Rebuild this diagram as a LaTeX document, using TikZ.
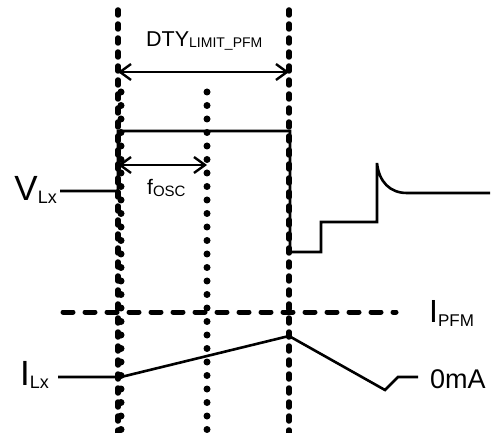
\documentclass[tikz,border=0pt]{standalone}
\usepackage{fontspec}
\setmainfont{Liberation Sans}
\usetikzlibrary{arrows.meta}
\begin{document}
\begin{tikzpicture}[x=1pt, y=-1pt,
    wave/.style={line width=2.6pt, line join=miter},
    vdash/.style={line width=5.5pt, line cap=round, dash pattern=on 5pt off 9pt},
    vdot/.style={line width=7pt, line cap=round, dash pattern=on 0pt off 13.5pt},
    hdash/.style={line width=5pt, line cap=round, dash pattern=on 10pt off 12pt},
    dimarr/.style={{Straight Barb[length=11pt,width=16pt]}-{Straight Barb[length=11pt,width=16pt]}, line width=2.4pt},
    lbl/.style={inner sep=0pt}]
  \useasboundingbox (0,0) rectangle (496,433);
  % time markers
  \coordinate (tOnTop) at (118,10);   \coordinate (tOnBot) at (118,433);
  \coordinate (tOffTop) at (289,10);  \coordinate (tOffBot) at (289,433);
  \coordinate (oscATop) at (121,92);  \coordinate (oscABot) at (121,433);
  \coordinate (oscBTop) at (207,92);  \coordinate (oscBBot) at (207,433);
  \draw[vdash] (tOnTop) -- (tOnBot);
  \draw[vdash] (tOffTop) -- (tOffBot);
  \draw[vdot] (oscATop) -- (oscABot);
  \draw[vdot] (oscBTop) -- (oscBBot);
  % PFM current threshold
  \coordinate (pfmL) at (63,312); \coordinate (pfmR) at (396,312);
  \draw[hdash] (pfmL) -- (pfmR);
  % dimensions
  \coordinate (dtyL) at (118,72); \coordinate (dtyR) at (289,72);
  \coordinate (oscL) at (118,165); \coordinate (oscR) at (207,165);
  \draw[dimarr] (dtyL) -- (dtyR);
  \draw[dimarr] (oscL) -- (oscR);
  % labels
  \node[lbl, anchor=base west] (dty) at (146,47)
    {\fontsize{21.5}{21.5}\selectfont DTY\raisebox{-1pt}{\fontsize{14}{14}\selectfont LIMIT\_PFM}};
  \node[lbl, anchor=base west] (fosc) at (147,195)
    {\fontsize{21}{21}\selectfont f\raisebox{-2pt}{\fontsize{15}{15}\selectfont OSC}};
  \node[lbl, anchor=base east] (vlx) at (57,201)
    {\fontsize{35}{35}\selectfont V\raisebox{-3pt}{\fontsize{18}{18}\selectfont Lx}};
  \node[lbl, anchor=base east] (ilx) at (49,385)
    {\fontsize{35}{35}\selectfont I\raisebox{-3pt}{\fontsize{18}{18}\selectfont Lx}};
  \node[lbl, anchor=base west] (ipfm) at (429,323)
    {\fontsize{32}{32}\selectfont I\raisebox{-4pt}{\fontsize{17}{17}\selectfont PFM}};
  \node[lbl, anchor=base west] (zero) at (430,388)
    {\fontsize{27}{27}\selectfont 0mA};
  % switching node voltage
  \draw[wave] (60,191) -- (118,191) -- (118,131) -- (290,131) -- (290,252)
    -- (321,252) -- (321,222) -- (377,222) -- (377,163)
    .. controls (379,182) and (390,193) .. (407,193) -- (490,193);
  % inductor current
  \draw[wave] (58,377) -- (121,377) -- (289,336) -- (385,390) -- (398,377) -- (418,377);
\end{tikzpicture}
\end{document}
